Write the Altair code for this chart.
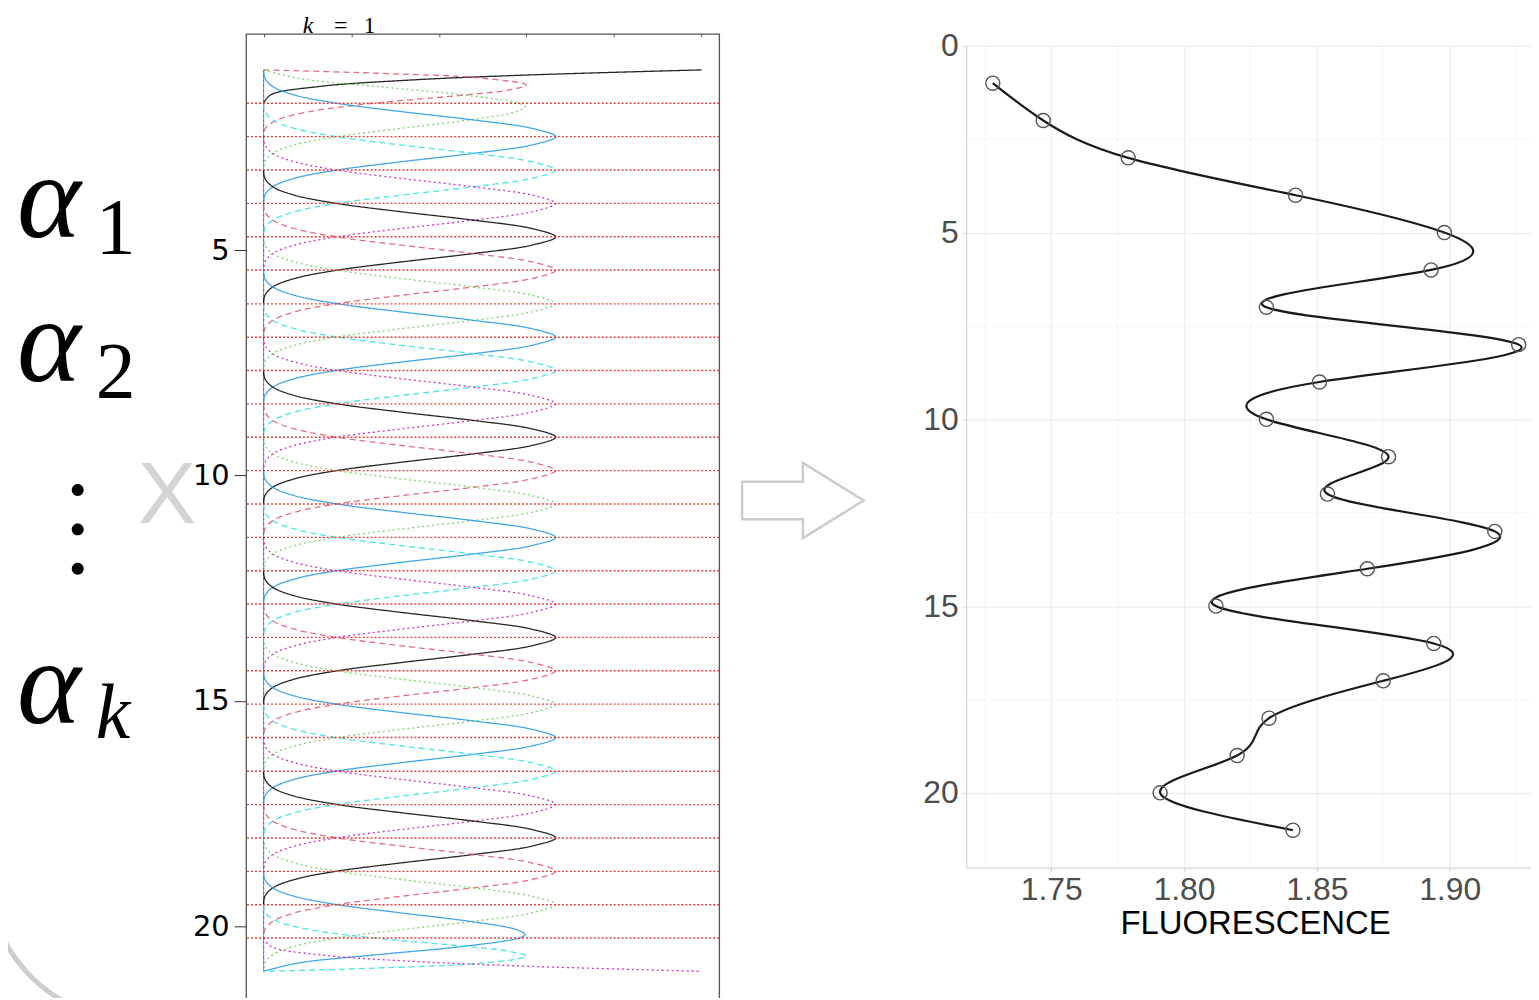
import altair as alt
import pandas as pd

# ---------------- left panel : spline basis, k = 1 ----------------
KNOTS = [1.74, 2.48, 3.22, 3.96, 4.70, 5.44, 6.19, 6.93, 7.67, 8.41, 9.15, 9.89,
         10.63, 11.37, 12.11, 12.85, 13.59, 14.33, 15.07, 15.81, 16.56, 17.30,
         18.04, 18.78, 19.52, 20.26]
KNOT_STEP = 0.7407          # distance between red knot lines (position units)
N_INTERVALS = 27            # knot intervals between position 1 and 21
N_BASIS = 30
POS_RANGE = [1, 21]
LEFT_Y_TICKS = [5, 10, 15, 20]
LEFT_X_TICKS = [0, 0.2, 0.4, 0.6, 0.8, 1.0]

# interior basis shape (offset from its peak in knot intervals, value)
PROFILE_T = [-2.0, -1.75, -1.5, -1.25, -1.0, -0.75, -0.5, -0.25, 0.0,
             0.25, 0.5, 0.75, 1.0, 1.25, 1.5, 1.75, 2.0]
PROFILE_V = [0.0, 0.003, 0.021, 0.070, 0.167, 0.315, 0.479, 0.612, 0.667,
             0.612, 0.479, 0.315, 0.167, 0.070, 0.021, 0.003, 0.0]
# boundary bases (distance from the end in knot intervals, value)
EDGE0_T = [0.0, 0.15, 0.3, 0.5, 0.75, 1.0]
EDGE0_V = [1.0, 0.61, 0.34, 0.125, 0.016, 0.0]
EDGE1_T = [0.0, 0.1, 0.25, 0.45, 0.6, 0.75, 1.0, 1.25, 1.5, 1.75, 2.0]
EDGE1_V = [0.0, 0.26, 0.50, 0.60, 0.56, 0.46, 0.25, 0.105, 0.031, 0.004, 0.0]
EDGE2_T = [0.0, 0.25, 0.5, 0.75, 1.0, 1.1, 1.25, 1.5, 1.75, 2.0, 2.25, 2.5, 2.75, 3.0]
EDGE2_V = [0.0, 0.079, 0.260, 0.457, 0.583, 0.597, 0.577, 0.469, 0.314, 0.167,
           0.070, 0.021, 0.003, 0.0]

STYLE_IDS = ["0", "1", "2", "3", "4", "5"]
STYLE_COLOR = ["#000000", "#DF536B", "#61D04F", "#2297E6", "#28E2E5", "#CD0BBC"]
STYLE_DASH = ["solid", "dashed", "dotted", "solid", "dashed", "dotted"]

# ---------------- right panel : fluorescence profile ----------------
DEPTH = list(range(1, 22))
FLUOR = [1.728, 1.747, 1.779, 1.842, 1.898, 1.893, 1.831, 1.926, 1.851, 1.831,
         1.877, 1.854, 1.917, 1.869, 1.812, 1.894, 1.875, 1.832, 1.820, 1.791, 1.841]
RIGHT_X_TICKS = [1.75, 1.80, 1.85, 1.90]
RIGHT_Y_TICKS = [0, 5, 10, 15, 20]
MINOR_X = [1.725, 1.775, 1.825, 1.875, 1.925]
MINOR_Y = [2.5, 7.5, 12.5, 17.5]

# ------------------------------------------------------------------
rows = []


def add_curve(i, ts, vs):
    for t, v in zip(ts, vs):
        rows.append({"curve": i, "pos": POS_RANGE[0] + t * KNOT_STEP, "val": v,
                     "col": STYLE_IDS[i % 6], "dash": STYLE_DASH[i % 6]})


def mirror(ts, vs):
    return [N_INTERVALS - t for t in reversed(ts)], list(reversed(vs))


add_curve(0, EDGE0_T, EDGE0_V)
add_curve(1, EDGE1_T, EDGE1_V)
add_curve(2, EDGE2_T, EDGE2_V)
for i in range(3, N_BASIS - 3):
    c = i - 1
    add_curve(i, [c + o for o in PROFILE_T], PROFILE_V)
add_curve(N_BASIS - 3, *mirror(EDGE2_T, EDGE2_V))
add_curve(N_BASIS - 2, *mirror(EDGE1_T, EDGE1_V))
add_curve(N_BASIS - 1, *mirror(EDGE0_T, EDGE0_V))

basis_df = pd.DataFrame(rows)
knots_df = pd.DataFrame({"pos": KNOTS})
base_df = pd.DataFrame({"val": [0.0], "pos": [POS_RANGE[0]], "pos2": [POS_RANGE[1]]})
ONE = pd.DataFrame({"k": [0]})

LW, LH = 475, 977
lx = alt.Scale(domain=[-0.04, 1.04], nice=False, zero=False)
ly = alt.Scale(domain=[0.2, 21.79], reverse=True, nice=False, zero=False)
ly_axis = alt.Axis(values=LEFT_Y_TICKS, title=None, labelFont="DejaVu Sans",
                   labelFontSize=29, labelColor="#000000", tickColor="#333333",
                   tickSize=12, labelPadding=5, domain=False, grid=False)
lx_axis = alt.Axis(orient="top", values=LEFT_X_TICKS, labels=False, title=None,
                   tickSize=3, offset=-3, domain=False, grid=False, tickColor="#555555")

baseline_blue = alt.Chart(base_df).mark_rule(color="#2297E6", strokeWidth=1.1, opacity=0.8).encode(
    x=alt.X("val:Q", scale=lx, axis=lx_axis),
    y=alt.Y("pos:Q", scale=ly, axis=ly_axis), y2="pos2:Q")
baseline_mag = alt.Chart(base_df).mark_rule(color="#CD0BBC", strokeWidth=1.2, strokeDash=[2, 3],
                                            opacity=0.7).encode(
    x=alt.X("val:Q", scale=lx, axis=lx_axis),
    y=alt.Y("pos:Q", scale=ly, axis=ly_axis), y2="pos2:Q")

basis = alt.Chart(basis_df).mark_line(strokeWidth=1.3, opacity=0.85,
                                      interpolate="catmull-rom").encode(
    x=alt.X("val:Q", scale=lx, axis=lx_axis),
    y=alt.Y("pos:Q", scale=ly, axis=ly_axis),
    color=alt.Color("col:N", scale=alt.Scale(domain=STYLE_IDS, range=STYLE_COLOR), legend=None),
    strokeDash=alt.StrokeDash("dash:N", scale=alt.Scale(domain=["solid", "dashed", "dotted"],
                                                        range=[[1, 0], [6, 4], [2, 3]]),
                              legend=None),
    detail="curve:N",
    order="pos:Q",
)

knot_rules = alt.Chart(knots_df).mark_rule(color="#e0403a", strokeDash=[2, 2], strokeWidth=1.4).encode(
    y=alt.Y("pos:Q", scale=ly, axis=ly_axis)
)


def txt(s, x, y, size, font="Liberation Serif", style="normal", color="#000000", align="left"):
    return alt.Chart(ONE).mark_text(text=s, font=font, fontStyle=style, fontSize=size,
                                    align=align, baseline="alphabetic", color=color).encode(
        x=alt.value(x), y=alt.value(y))


DOTS = ("M-0.12,-0.79A0.12,0.12,0,1,0,0.12,-0.79A0.12,0.12,0,1,0,-0.12,-0.79Z"
        "M-0.12,0A0.12,0.12,0,1,0,0.12,0A0.12,0.12,0,1,0,-0.12,0Z"
        "M-0.12,0.79A0.12,0.12,0,1,0,0.12,0.79A0.12,0.12,0,1,0,-0.12,0.79Z")
ARROW = "M-1,-0.31L0,-0.31L0,-0.62L1,0L0,0.62L0,0.31L-1,0.31Z"

annots = [
    txt("α", -230, 204, 122, style="italic"),
    txt("1", -151, 221, 80),
    txt("α", -230, 349, 122, style="italic"),
    txt("2", -151, 366, 80),
    txt("α", -230, 692, 122, style="italic"),
    txt("k", -151, 707, 78, style="italic"),
    txt("X", -79.5, 491, 88, font="Liberation Sans", color="#d4d4d4", align="center"),
    txt("k", 57, -1, 24, style="italic"),
    txt("=", 95, -1, 24, align="center"),
    txt("1", 124, -1, 23, align="center"),
    alt.Chart(ONE).mark_point(shape=DOTS, size=10000, filled=True, color="#000000",
                              opacity=1, strokeWidth=0).encode(
        x=alt.value(-169), y=alt.value(497.5)),
    alt.Chart(ONE).mark_arc(color="#cdcdcd").encode(
        x=alt.value(-110), y=alt.value(841), theta=alt.value(3.545), theta2=alt.value(4.712),
        radius=alt.value(152), radius2=alt.value(147)),
]

left = alt.layer(baseline_blue, baseline_mag, basis, knot_rules, *annots).properties(
    width=LW, height=LH,
    view=alt.ViewBackground(stroke="#555555", strokeWidth=1.3),
)

# ---------------- right chart ----------------
RW, RH = 580, 825
rx = alt.Scale(domain=[1.718, 1.9355], nice=False, zero=False)
ry = alt.Scale(domain=[0, 22], reverse=True, nice=False, zero=False)
rx_axis = alt.Axis(values=RIGHT_X_TICKS, format=".2f", title="FLUORESCENCE",
                   labelFont="Liberation Sans", labelFontSize=32, labelColor="#4d4d4d",
                   titleFont="Liberation Sans", titleFontSize=33, titleColor="#000000",
                   titleFontWeight="normal", titlePadding=2,
                   tickColor="#d0d0d0", tickSize=4, labelPadding=3,
                   domainColor="#d6d6d6", domainWidth=1.2,
                   gridColor="#ebebeb", gridWidth=1.1)
ry_axis = alt.Axis(values=RIGHT_Y_TICKS, title=None,
                   labelFont="Liberation Sans", labelFontSize=32, labelColor="#4d4d4d",
                   tickColor="#d0d0d0", tickSize=4, labelPadding=4,
                   domainColor="#d6d6d6", domainWidth=1.2,
                   gridColor="#ebebeb", gridWidth=1.1)

pts_df = pd.DataFrame({"fl": FLUOR, "depth": DEPTH})

minor_x = alt.Chart(pd.DataFrame({"fl": MINOR_X})).mark_rule(color="#f2f2f2", strokeWidth=0.8).encode(
    x=alt.X("fl:Q", scale=rx, axis=rx_axis))
minor_y = alt.Chart(pd.DataFrame({"depth": MINOR_Y})).mark_rule(color="#f2f2f2", strokeWidth=0.8).encode(
    y=alt.Y("depth:Q", scale=ry, axis=ry_axis))
curve = alt.Chart(pts_df).mark_line(color="#1a1a1a", strokeWidth=2.2, interpolate="natural").encode(
    x=alt.X("fl:Q", scale=rx, axis=rx_axis),
    y=alt.Y("depth:Q", scale=ry, axis=ry_axis),
    order="depth:Q",
)
points = alt.Chart(pts_df).mark_point(shape="circle", size=200, filled=False, color="#555555",
                                      strokeWidth=1.4, opacity=1).encode(
    x=alt.X("fl:Q", scale=rx, axis=rx_axis),
    y=alt.Y("depth:Q", scale=ry, axis=ry_axis),
)
arrow = alt.Chart(ONE).mark_point(shape=ARROW, size=14884, filled=True, fill="#ffffff",
                                  stroke="#cccccc", strokeWidth=2.5, opacity=1).encode(
    x=alt.value(-164), y=alt.value(456.5))

right = alt.layer(minor_x, minor_y, curve, points, arrow).properties(width=RW, height=RH)

spacer = alt.Chart(ONE).mark_rect(opacity=0).encode(
    x=alt.value(0), x2=alt.value(1), y=alt.value(0), y2=alt.value(1)).properties(width=1, height=1)

right_block = alt.vconcat(spacer, right, spacing=-5)

chart = alt.hconcat(left, right_block, spacing=16).properties(
    padding={"left": -24, "top": 3, "right": -14, "bottom": -16}
).configure_view(stroke=None)

chart.save("out.html", embed_options={"renderer": "svg", "actions": False})
